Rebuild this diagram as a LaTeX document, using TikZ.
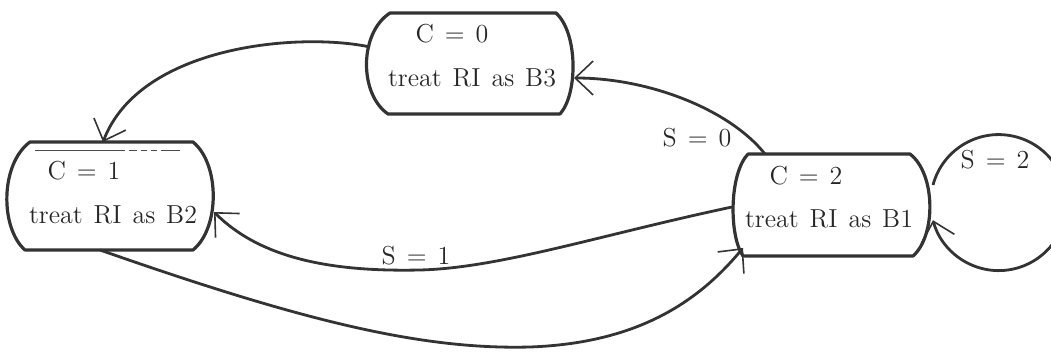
\documentclass[tikz,border=0pt]{standalone}
\usetikzlibrary{arrows.meta}
\newcommand\mywidesp{\spaceskip=0.42em plus 0.1em\relax}
\begin{document}
\begin{tikzpicture}[x=0.5pt,y=-0.5pt,
  outline/.style={line width=1.6pt, draw=black!80, line join=round},
  conn/.style={line width=1.4pt, draw=black!80,
    -{Straight Barb[length=9pt,width=17pt,line width=0.8pt]}},
  lab/.style={font=\fontsize{13}{15}\selectfont\mywidesp, text=black!85, inner sep=0pt}]
\useasboundingbox (0,0) rectangle (1051,352);

% state boxes
\draw[outline] (390,13) -- (556,13) .. controls (578,33) and (578,94) .. (560,114)
  -- (388,114) .. controls (359,94) and (359,33) .. (390,13) -- cycle;
\draw[outline] (30,142) -- (193,142) .. controls (220,164) and (220,228) .. (193,250)
  -- (25,250) .. controls (0,228) and (0,164) .. (30,142) -- cycle;
\draw[outline] (748,154) -- (910,154) .. controls (936,174) and (936,236) .. (913,256)
  -- (743,256) .. controls (729,236) and (729,174) .. (748,154) -- cycle;
\draw[line width=0.5pt, black!70, dash pattern=on 45pt off 2pt on 4pt off 2pt on 3pt off 2pt on 3pt off 2pt] (35,151) -- (180,151);

% texts
\node[lab] (t0a) at (452,34) {C = 0};
\node[lab] (t0b) at (472,78) {treat RI as B3};
\node[lab] (t1a) at (84,171) {C = 1};
\node[lab] (t1b) at (113,215) {treat RI as B2};
\node[lab] (t2a) at (806,176) {C = 2};
\node[lab] (t2b) at (829,219) {treat RI as B1};
\node[lab] (s0) at (697,138) {S = 0};
\node[lab] (s1) at (416,256) {S = 1};
\node[lab] (s2) at (995,160) {S = 2};

% connector end points
\coordinate (c0W) at (370,47);
\coordinate (c0E) at (574,78);
\coordinate (c1N) at (103,142);
\coordinate (c1E) at (214,212);
\coordinate (c1S) at (100,250);
\coordinate (c2N) at (765,154);
\coordinate (c2W) at (732,207);
\coordinate (c2SW) at (743,248);
\coordinate (loopA) at (933,185);

% connectors
\draw[conn] (c0W) .. controls (300,32) and (140,45) .. (c1N);
\draw[conn] (c2N) .. controls (730,110) and (650,78) .. (c0E);
\draw[conn] (c2W) .. controls (600,235) and (500,268) .. (420,270)
  .. controls (330,272) and (260,258) .. (c1E);
\draw[conn] (c1S) .. controls (300,320) and (420,350) .. (530,347)
  .. controls (640,343) and (700,300) .. (c2SW);
\draw[conn] (loopA) arc[start angle=165, end angle=-165, radius=34pt];
\end{tikzpicture}
\end{document}
